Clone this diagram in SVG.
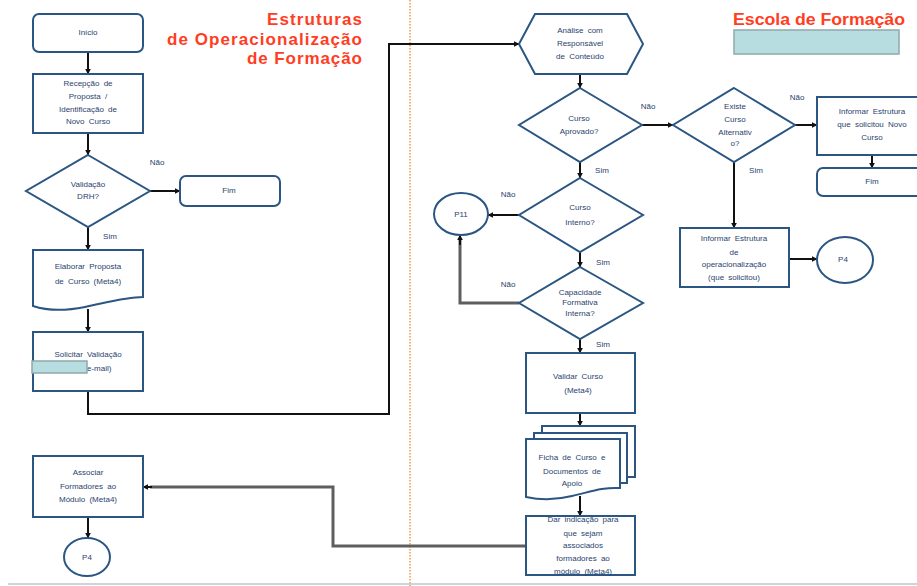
<svg xmlns="http://www.w3.org/2000/svg" width="917" height="586" viewBox="0 0 917 586">
  <defs>
    <marker id="arrow" viewBox="0 0 10 10" refX="9" refY="5" markerWidth="6" markerHeight="6" markerUnits="userSpaceOnUse" orient="auto">
      <path d="M0,0 L10,5 L0,10 Z" fill="#111"/>
    </marker>
  </defs>
  <style>
    .node { fill: #ffffff; stroke: #2B5683; stroke-width: 2; }
    .t { font-family: "Liberation Sans", Arial, sans-serif; font-size: 8px; fill: #2A3F6E; text-anchor: middle; word-spacing: 2px; }
    .lbl { font-family: "Liberation Sans", Arial, sans-serif; font-size: 8px; fill: #2A3F6E; text-anchor: middle; }
    .title { font-family: "Liberation Sans", Arial, sans-serif; font-size: 17px; font-weight: bold; fill: #FF3D1F; }
    .edge { fill: none; stroke: #111; stroke-width: 2; marker-end: url(#arrow); }
    .edgeG { fill: none; stroke: #5E5E5E; stroke-width: 3; }
    .mask { fill: #B7DDE0; stroke: #8FA9AA; stroke-width: 1.5; }
  </style>

  <rect width="917" height="586" fill="#ffffff"/>

  <!-- lane separator and footer rule -->
  <line x1="410" y1="0" x2="410" y2="586" stroke="#F79646" stroke-width="1.5" stroke-dasharray="1.5 1.5"/>
  <line x1="8" y1="584" x2="917" y2="584" stroke="#BCC6CE" stroke-width="1.5"/>

  <!-- lane titles -->
  <g id="title-left">
    <text class="title" x="267" y="25" textLength="95" lengthAdjust="spacing">Estruturas</text>
    <text class="title" x="167" y="45" textLength="195" lengthAdjust="spacing">de Operacionalização</text>
    <text class="title" x="247" y="64" textLength="115" lengthAdjust="spacing">de Formação</text>
  </g>
  <g id="title-right">
    <text class="title" x="733" y="25" textLength="172" lengthAdjust="spacingAndGlyphs" style="font-size:16px">Escola de Formação</text>
    <rect class="mask" x="734" y="30" width="165" height="24"/>
  </g>

  <!-- connectors -->
  <g id="connectors">
    <path class="edge" d="M88,52 V74"/>
    <path class="edge" d="M88,133 V155"/>
    <path class="edge" d="M150,191 H180"/>
    <path class="edge" d="M88,227 V250"/>
    <path class="edge" d="M88,309 V332"/>
    <path class="edge" d="M88,391 V414 H389 V44 H519"/>
    <path class="edge" d="M580,74 V88"/>
    <path class="edge" d="M642,125 H673"/>
    <path class="edge" d="M795,125 H817"/>
    <path class="edge" d="M872,155 V168"/>
    <path class="edge" d="M734,162 V228"/>
    <path class="edge" d="M789,259 H817"/>
    <path class="edge" d="M580,162 V178"/>
    <path class="edge" d="M519,215 H488" stroke="#555"/>
    <path class="edge" d="M580,252 V267"/>
    <path class="edgeG" d="M519,303 H460 V240"/>
    <path class="edge" d="M460,245 V235"/>
    <path class="edge" d="M580,339 V353"/>
    <path class="edge" d="M580,413 V426"/>
    <path class="edge" d="M580,496 V516"/>
    <path class="edgeG" d="M526,546 H333 V487 H150"/>
    <path class="edge" d="M152,487 H143"/>
    <path class="edge" d="M88,517 V538"/>
  </g>

  <!-- left lane -->
  <g id="inicio">
    <rect class="node" x="33" y="14" width="110" height="38" rx="6"/>
    <text class="t" x="88" y="35">Início</text>
  </g>
  <g id="recepcao">
    <rect class="node" x="33" y="74" width="110" height="59"/>
    <text class="t" x="88" y="86">Recepção de</text>
    <text class="t" x="88" y="99">Proposta /</text>
    <text class="t" x="88" y="112">Identificação de</text>
    <text class="t" x="88" y="124">Novo Curso</text>
  </g>
  <g id="validacao-drh">
    <polygon class="node" points="88,155 150,191 88,227 26,191"/>
    <text class="t" x="88" y="187">Validação</text>
    <text class="t" x="88" y="199">DRH?</text>
    <text class="lbl" x="157" y="165">Não</text>
    <text class="lbl" x="110" y="239">Sim</text>
  </g>
  <g id="fim-left">
    <rect class="node" x="180" y="176" width="100" height="30" rx="6"/>
    <text class="t" x="229" y="193">Fim</text>
  </g>
  <g id="elaborar">
    <path class="node" d="M33,250 H143 V297 C125,297 105,303 85,307 C65,311 48,311 33,306 Z"/>
    <text class="t" x="88" y="269">Elaborar Proposta</text>
    <text class="t" x="88" y="284">de Curso (Meta4)</text>
  </g>
  <g id="solicitar">
    <rect class="node" x="33" y="332" width="110" height="59"/>
    <text class="t" x="88" y="357">Solicitar Validação</text>
    <text class="t" x="87" y="371" style="text-anchor:start">e-mail)</text>
    <rect class="mask" x="32" y="361" width="55" height="12"/>
  </g>
  <g id="associar">
    <rect class="node" x="33" y="456" width="110" height="61"/>
    <text class="t" x="88" y="475">Associar</text>
    <text class="t" x="88" y="489">Formadores ao</text>
    <text class="t" x="88" y="502">Módulo (Meta4)</text>
  </g>
  <g id="p4-left">
    <ellipse class="node" cx="87" cy="557" rx="23" ry="19"/>
    <text class="t" x="87" y="560">P4</text>
  </g>

  <!-- right lane -->
  <g id="analise">
    <polygon class="node" points="519,44 535,14 627,14 643,44 627,74 535,74"/>
    <text class="t" x="580" y="33">Análise com</text>
    <text class="t" x="580" y="46">Responsável</text>
    <text class="t" x="580" y="59">de Conteúdo</text>
  </g>
  <g id="curso-aprovado">
    <polygon class="node" points="580,88 642,125 580,162 519,125"/>
    <text class="t" x="579" y="121">Curso</text>
    <text class="t" x="579" y="134">Aprovado?</text>
    <text class="lbl" x="648" y="109">Não</text>
    <text class="lbl" x="602" y="173">Sim</text>
  </g>
  <g id="curso-alternativo">
    <polygon class="node" points="734,88 795,125 734,162 673,125"/>
    <text class="t" x="735" y="109">Existe</text>
    <text class="t" x="735" y="122">Curso</text>
    <text class="t" x="735" y="135">Alternativ</text>
    <text class="t" x="735" y="146">o?</text>
    <text class="lbl" x="797" y="100">Não</text>
    <text class="lbl" x="756" y="173">Sim</text>
  </g>
  <g id="informar-novo">
    <rect class="node" x="817" y="97" width="110" height="58"/>
    <text class="t" x="872" y="114">Informar Estrutura</text>
    <text class="t" x="872" y="127">que solicitou Novo</text>
    <text class="t" x="872" y="140">Curso</text>
  </g>
  <g id="fim-right">
    <rect class="node" x="817" y="168" width="110" height="28" rx="6"/>
    <text class="t" x="872" y="184">Fim</text>
  </g>
  <g id="informar-operacionalizacao">
    <rect class="node" x="680" y="228" width="109" height="59"/>
    <text class="t" x="734" y="241">Informar Estrutura</text>
    <text class="t" x="734" y="255">de</text>
    <text class="t" x="734" y="267">operacionalização</text>
    <text class="t" x="734" y="280">(que solicitou)</text>
  </g>
  <g id="p4-right">
    <ellipse class="node" cx="845" cy="260" rx="28" ry="23"/>
    <text class="t" x="843" y="262">P4</text>
  </g>
  <g id="curso-interno">
    <polygon class="node" points="580,178 643,215 580,252 519,215"/>
    <text class="t" x="580" y="210">Curso</text>
    <text class="t" x="580" y="225">Interno?</text>
    <text class="lbl" x="508" y="197">Não</text>
    <text class="lbl" x="603" y="265">Sim</text>
  </g>
  <g id="p11">
    <ellipse class="node" cx="461" cy="214" rx="27" ry="21"/>
    <text class="t" x="461" y="217">P11</text>
  </g>
  <g id="capacidade">
    <polygon class="node" points="580,267 643,303 580,339 519,303"/>
    <text class="t" x="580" y="295">Capacidade</text>
    <text class="t" x="580" y="305">Formativa</text>
    <text class="t" x="580" y="316">Interna?</text>
    <text class="lbl" x="508" y="287">Não</text>
    <text class="lbl" x="603" y="347">Sim</text>
  </g>
  <g id="validar">
    <rect class="node" x="526" y="353" width="109" height="60"/>
    <text class="t" x="578" y="379">Validar Curso</text>
    <text class="t" x="578" y="393">(Meta4)</text>
  </g>
  <g id="ficha">
    <rect class="node" x="542" y="426" width="93" height="51"/>
    <rect class="node" x="534" y="433" width="93" height="50"/>
    <path class="node" d="M526,439 H620 V488 C602,487 590,492 572,496 C556,500 540,500 526,497 Z"/>
    <text class="t" x="572" y="460">Ficha de Curso e</text>
    <text class="t" x="572" y="474">Documentos de</text>
    <text class="t" x="572" y="486">Apoio</text>
  </g>
  <g id="dar-indicacao">
    <rect class="node" x="526" y="516" width="109" height="59"/>
    <text class="t" x="583" y="522">Dar indicação para</text>
    <text class="t" x="583" y="536">que sejam</text>
    <text class="t" x="583" y="548">associados</text>
    <text class="t" x="583" y="561">formadores ao</text>
    <text class="t" x="583" y="574">módulo (Meta4)</text>
  </g>
</svg>
